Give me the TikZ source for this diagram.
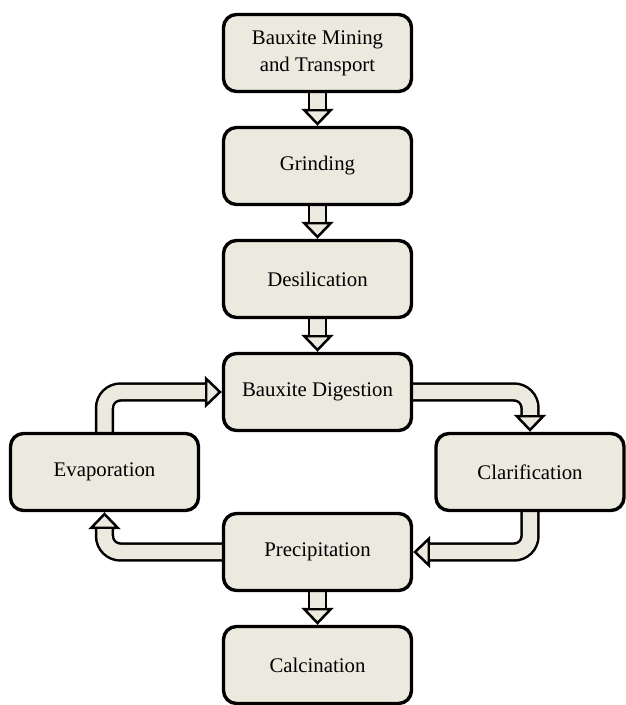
\documentclass[tikz,border=0pt]{standalone}
\usepackage{fontspec}
\setmainfont{Liberation Serif}
\usetikzlibrary{arrows.meta, calc, backgrounds}
\definecolor{stagefill}{RGB}{236,233,222}

\tikzset{
  stage/.style={draw=black, line width=1.7pt, fill=stagefill, rounded corners=6.5pt,
    minimum width=94pt, minimum height=38.5pt, align=center, inner sep=2pt,
    font=\fontsize{10.4}{13.5}\selectfont},
  pipe/.style={draw=black, line width=1.25pt, double=stagefill, double distance=7.2pt,
    rounded corners=8pt},
  pipehead/.style={line width=1.25pt, -{Triangle[width=16pt, length=8.5pt, fill=stagefill]}},
}

\begin{document}
\begin{tikzpicture}[x=0.5pt, y=-0.5pt]
  \useasboundingbox (0,0) rectangle (625,705);
  % main line
  \node[stage] (mining) at (317.5,53) {Bauxite Mining\\and Transport};
  \node[stage] (grinding) at (317.5,166) {Grinding};
  \node[stage] (desil) at (317.5,279) {Desilication};
  \node[stage] (digest) at (317.5,392) {Bauxite Digestion};
  \node[stage] (precip) at (317.5,552) {Precipitation};
  \node[stage] (calcin) at (317.5,665) {Calcination};
  % side stages
  \node[stage] (evap) at (104.5,472) {Evaporation};
  \node[stage] (clarif) at (530,472) {Clarification};

  \begin{pgfonlayer}{background}
    % straight arrows
    \foreach \a/\b in {mining/grinding, grinding/desil, desil/digest, precip/calcin} {
      \draw[pipehead] ($(\b.north)+(0,-19)$) -- (\b.north);
      \draw[pipe] (\a.south) -- ($(\b.north)+(0,-17)$);
    }
    % liquor cycle
    \draw[pipehead] ($(clarif.north)+(0,-19)$) -- (clarif.north);
    \draw[pipe] (digest.east) -| ($(clarif.north)+(0,-17)$);
    \draw[pipehead] ($(precip.east)+(19,0)$) -- (precip.east);
    \draw[pipe] (clarif.south) |- ($(precip.east)+(17,0)$);
    \draw[pipehead] ($(evap.south)+(0,19)$) -- (evap.south);
    \draw[pipe] (precip.west) -| ($(evap.south)+(0,17)$);
    \draw[pipehead] ($(digest.west)+(-19,0)$) -- (digest.west);
    \draw[pipe] (evap.north) |- ($(digest.west)+(-17,0)$);
  \end{pgfonlayer}
\end{tikzpicture}
\end{document}
